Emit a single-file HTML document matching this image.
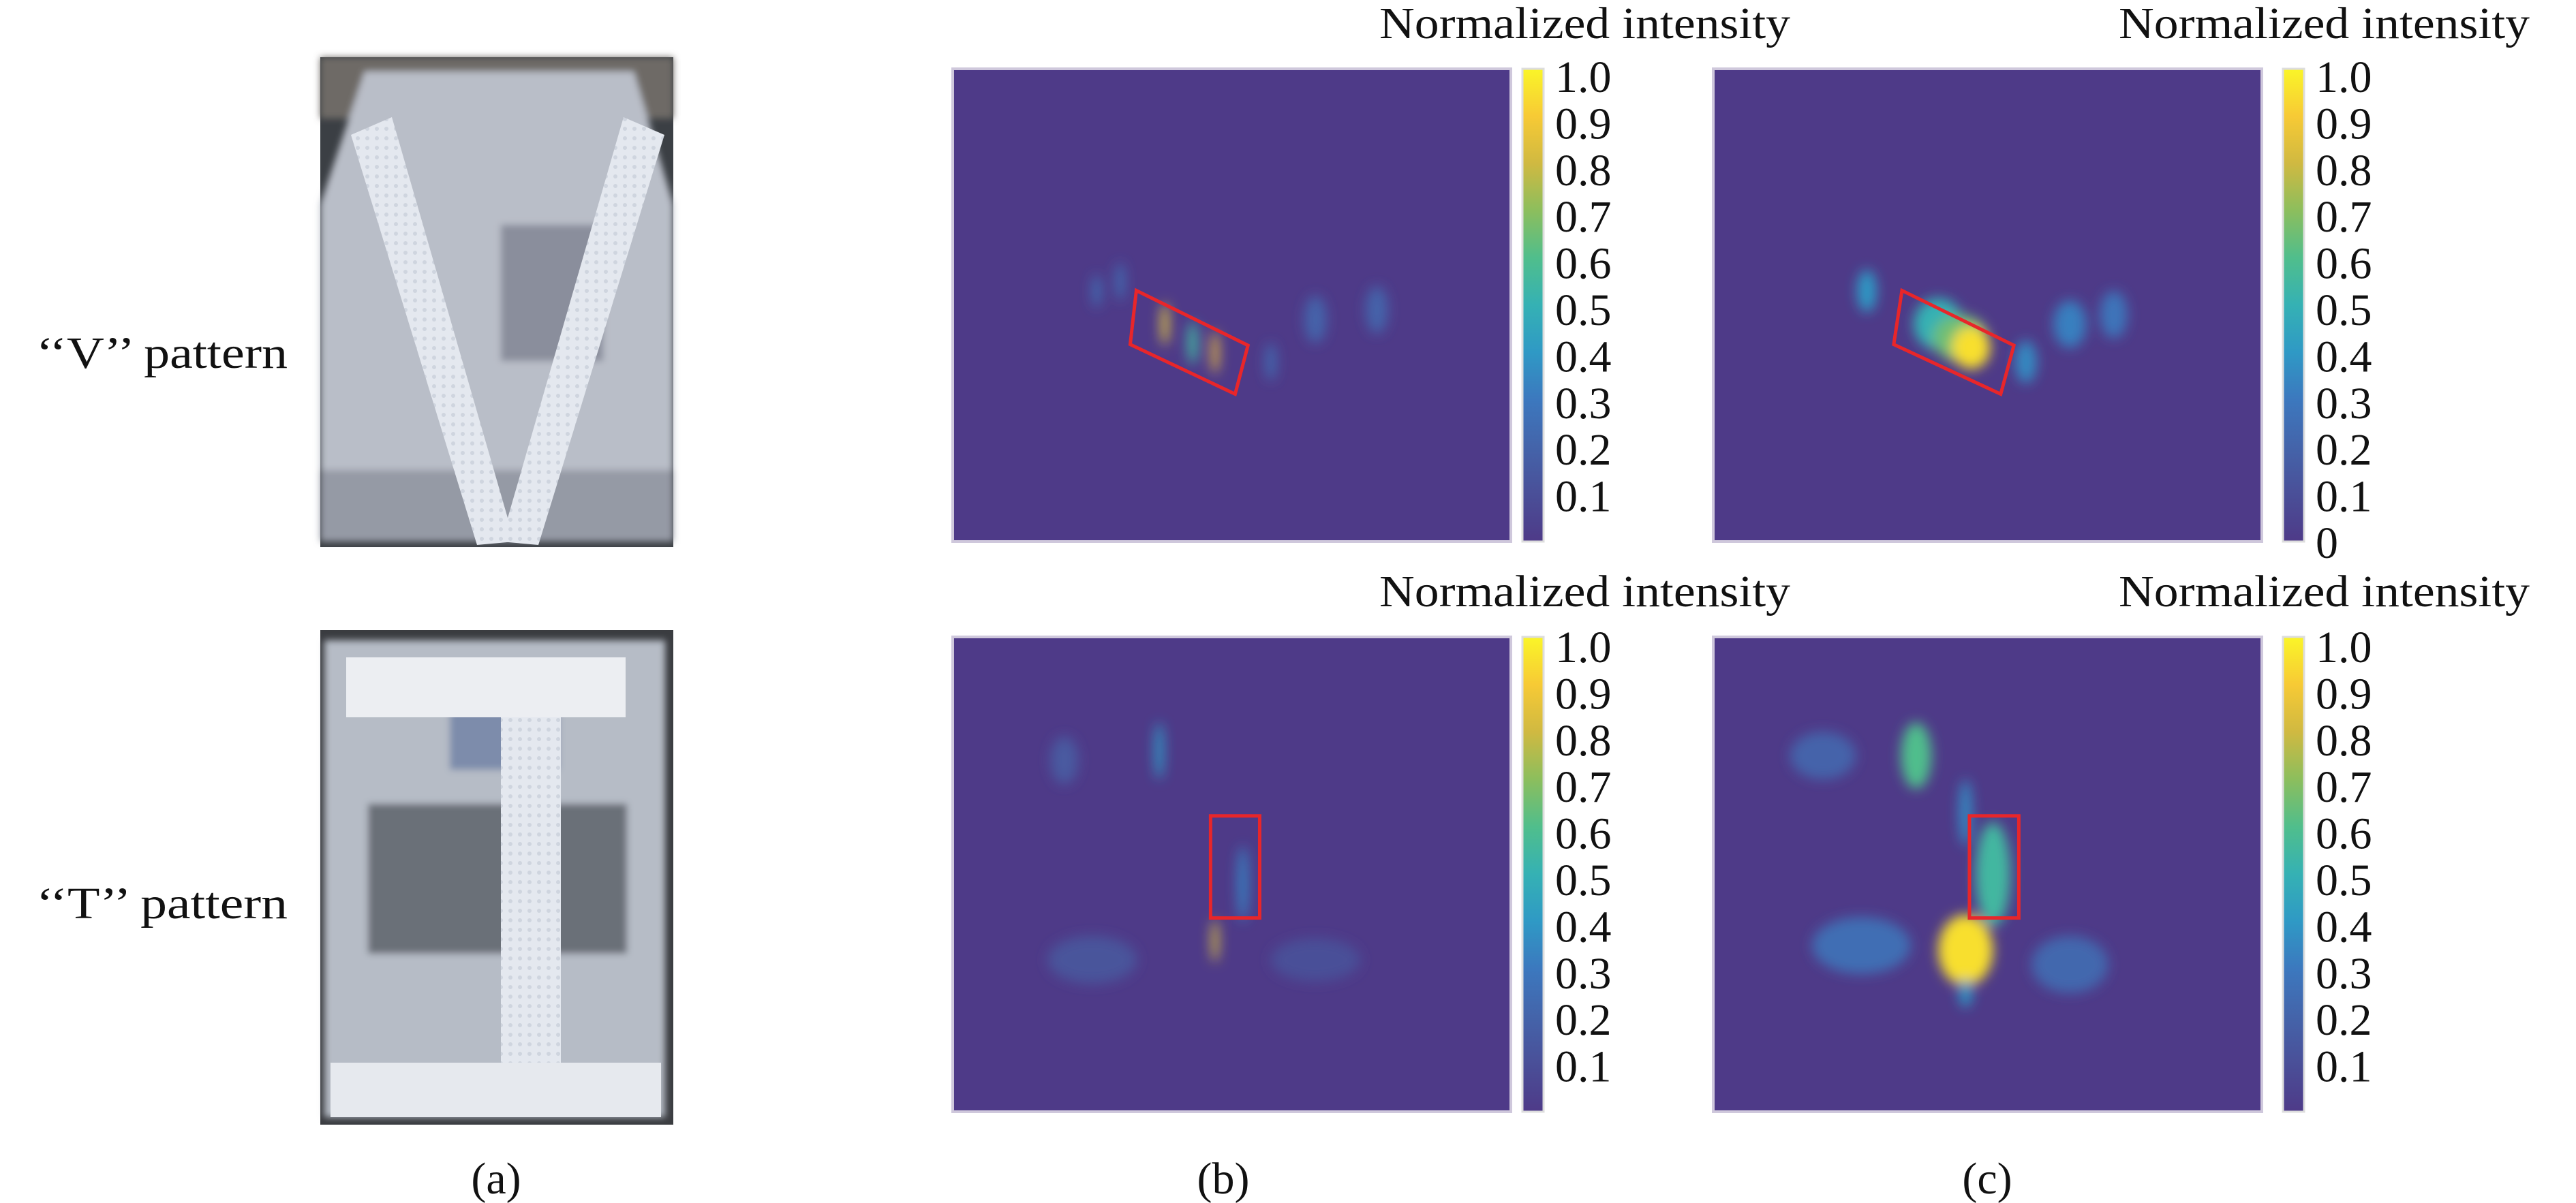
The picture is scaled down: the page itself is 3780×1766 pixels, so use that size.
<!DOCTYPE html>
<html><head><meta charset="utf-8"><style>
html,body{margin:0;padding:0;background:#fff}
svg{display:block}
text{font-family:"Liberation Serif","DejaVu Serif",serif;fill:#111}
</style></head><body>
<svg id="fig" width="3780" height="1766" viewBox="0 0 3780 1766" xmlns="http://www.w3.org/2000/svg">
<defs>
<filter id="blur" x="-50%" y="-50%" width="200%" height="200%"><feGaussianBlur stdDeviation="9"/></filter>
<filter id="pblur"><feGaussianBlur stdDeviation="5"/></filter>
<pattern id="mesh" width="14" height="14" patternUnits="userSpaceOnUse"><rect width="14" height="14" fill="#e4e8ef"/><circle cx="7" cy="7" r="3" fill="#cfd5df"/></pattern>
</defs>
<text x="53" y="540" font-size="66" textLength="369" lengthAdjust="spacingAndGlyphs">‘‘V’’ pattern</text>
<text x="53" y="1348" font-size="66" textLength="369" lengthAdjust="spacingAndGlyphs">‘‘T’’ pattern</text>
<g>
<rect x="470" y="84" width="518" height="719" fill="#3b3f44"/>
<g filter="url(#pblur)">
<rect x="470" y="84" width="518" height="90" fill="#6e6a66"/>
<polygon points="535,105 930,105 988,300 988,795 470,795 470,300" fill="#b9bec8"/>
<rect x="735" y="330" width="150" height="200" fill="#8a8e9c"/>
<rect x="470" y="690" width="518" height="105" fill="#959aa5"/>
</g>
<polygon points="515,198 575,172 755,795 700,800" fill="url(#mesh)"/>
<polygon points="915,172 975,198 790,800 735,795" fill="url(#mesh)"/>
</g>
<g>
<rect x="470" y="925" width="518" height="726" fill="#3a3c40"/>
<g filter="url(#pblur)">
<rect x="476" y="940" width="500" height="700" fill="#b6bcc6"/>
<rect x="540" y="1180" width="380" height="220" fill="#6a6f78"/>
<rect x="660" y="1040" width="160" height="90" fill="#7d8cab"/>
</g>
<rect x="508" y="965" width="410" height="88" fill="#eceef2"/>
<rect x="735" y="1053" width="88" height="510" fill="url(#mesh)"/>
<rect x="485" y="1560" width="485" height="80" fill="#e6e9ee"/>
</g>
<text x="728" y="1752" font-size="66" text-anchor="middle">(a)</text>
<text x="1795" y="1752" font-size="66" text-anchor="middle">(b)</text>
<text x="2916" y="1752" font-size="66" text-anchor="middle">(c)</text>
<g id="panels"></g>
</svg>
<script>
// ---- data ----
const tickLabelsA = ["1.0","0.9","0.8","0.7","0.6","0.5","0.4","0.3","0.2","0.1"];
const tickValuesA = [1.0,0.9,0.8,0.7,0.6,0.5,0.4,0.3,0.2,0.1];
const tickLabelsB = ["1.0","0.9","0.8","0.7","0.6","0.5","0.4","0.3","0.2","0.1","0"];
const tickValuesB = [1.0,0.9,0.8,0.7,0.6,0.5,0.4,0.3,0.2,0.1,0];
// blobs: [x fraction, y fraction, value, rx fraction, ry fraction]
const blobsVb = [[0.258,0.47,0.25,0.008,0.035],[0.30,0.45,0.25,0.008,0.04],[0.38,0.54,0.95,0.006,0.045],[0.43,0.58,0.55,0.009,0.045],[0.47,0.60,0.9,0.006,0.045],[0.57,0.62,0.22,0.01,0.04],[0.65,0.53,0.2,0.02,0.05],[0.76,0.51,0.2,0.02,0.05]];
const blobsVc = [[0.28,0.47,0.4,0.018,0.045],[0.41,0.54,0.5,0.045,0.055],[0.45,0.57,0.65,0.05,0.05],[0.47,0.59,0.95,0.035,0.045],[0.57,0.62,0.35,0.02,0.045],[0.65,0.54,0.32,0.03,0.05],[0.73,0.52,0.28,0.025,0.05]];
const blobsTb = [[0.37,0.24,0.4,0.008,0.06],[0.2,0.26,0.15,0.025,0.05],[0.52,0.52,0.32,0.01,0.08],[0.47,0.64,0.95,0.005,0.045],[0.25,0.68,0.12,0.08,0.05],[0.65,0.68,0.1,0.08,0.045]];
const blobsTc = [[0.37,0.25,0.6,0.028,0.07],[0.2,0.25,0.2,0.06,0.05],[0.46,0.37,0.35,0.012,0.07],[0.51,0.50,0.55,0.032,0.11],[0.46,0.66,0.95,0.05,0.075],[0.27,0.65,0.25,0.09,0.06],[0.65,0.69,0.22,0.07,0.06],[0.46,0.75,0.4,0.012,0.03]];
// red boxes: polygon corners as fractions
const boxVb = [[0.329,0.469],[0.529,0.585],[0.506,0.688],[0.318,0.583]];
const boxVc = [[0.344,0.469],[0.548,0.585],[0.524,0.688],[0.329,0.583]];
const boxTb = [[0.462,0.377],[0.550,0.377],[0.550,0.592],[0.462,0.592]];
const boxTc = [[0.467,0.377],[0.557,0.377],[0.557,0.592],[0.467,0.592]];

const panels = [
 {name:"v-b",x:1398,y:101,w:819,h:694,cb:2234,blobs:blobsVb,box:boxVb,labels:tickLabelsA,vals:tickValuesA,title:2024,ty:56},
 {name:"v-c",x:2514,y:101,w:805,h:694,cb:3350,blobs:blobsVc,box:boxVc,labels:tickLabelsB,vals:tickValuesB,title:3109,ty:56},
 {name:"t-b",x:1398,y:935,w:819,h:697,cb:2234,blobs:blobsTb,box:boxTb,labels:tickLabelsA,vals:tickValuesA,title:2024,ty:890},
 {name:"t-c",x:2514,y:935,w:805,h:697,cb:3350,blobs:blobsTc,box:boxTc,labels:tickLabelsA,vals:tickValuesA,title:3109,ty:890}
];
const vir = [[0,[78,58,136]],[0.15,[72,90,160]],[0.3,[60,120,190]],[0.45,[40,170,200]],[0.6,[80,190,140]],[0.75,[170,190,70]],[0.85,[245,180,60]],[1,[250,245,40]]];
function viridis(v){
 v=Math.max(0,Math.min(1,v));
 for(let i=1;i<vir.length;i++){ if(v<=vir[i][0]){ const a=vir[i-1],b=vir[i],t=(v-a[0])/(b[0]-a[0]);
  const c=a[1].map((q,k)=>Math.round(q+(b[1][k]-q)*t)); return `rgb(${c})`; } }
 return "rgb(250,245,40)";
}
const NS="http://www.w3.org/2000/svg";
const root=document.getElementById("panels");
const defs=document.querySelector("defs");
function mk(tag,attrs,parent){const e=document.createElementNS(NS,tag);for(const k in attrs)e.setAttribute(k,attrs[k]);(parent||root).appendChild(e);return e;}
const grad=mk("linearGradient",{id:"cbgrad",x1:0,y1:1,x2:0,y2:0},defs);
for(let i=0;i<=10;i++){mk("stop",{offset:i/10,"stop-color":viridis(i/10)},grad);}
panels.forEach(p=>{
 const g=mk("g",{});
 
 
 const cp=mk("clipPath",{id:"clip-"+p.name},defs);
 mk("rect",{x:p.x,y:p.y,width:p.w,height:p.h},cp);
 mk("rect",{x:p.x,y:p.y,width:p.w,height:p.h,fill:viridis(0),stroke:"#cfc8dc","stroke-width":4},g);
 const bg=mk("g",{"clip-path":`url(#clip-${p.name})`},g);
 const bl=mk("g",{filter:"url(#blur)"},bg);
 p.blobs.forEach(b=>{
  const e=mk("ellipse",{cx:p.x+b[0]*p.w,cy:p.y+b[1]*p.h,rx:b[3]*p.w,ry:b[4]*p.h,fill:viridis(b[2])},bl);
  
  
 });
 const box=mk("polygon",{points:p.box.map(c=>`${p.x+c[0]*p.w},${p.y+c[1]*p.h}`).join(" "),fill:"none",stroke:"#e8262a","stroke-width":5},g);
 
 
 const cb=mk("rect",{x:p.cb,y:p.y,width:31,height:p.h,fill:"url(#cbgrad)",stroke:"#ddd","stroke-width":3},g);
 
 
 const y0=p.y+p.h, span=684;
 p.labels.forEach((lab,i)=>{
  const t=mk("text",{x:p.cb+48,y:y0-p.vals[i]*span+24,"font-size":66},g);
  t.textContent=lab;
  
  
 });
 const tt=mk("text",{x:p.title,y:p.ty,"font-size":66,textLength:603,lengthAdjust:"spacingAndGlyphs"},g);
 tt.textContent="Normalized intensity";
 
 
});
</script>
</body></html>
